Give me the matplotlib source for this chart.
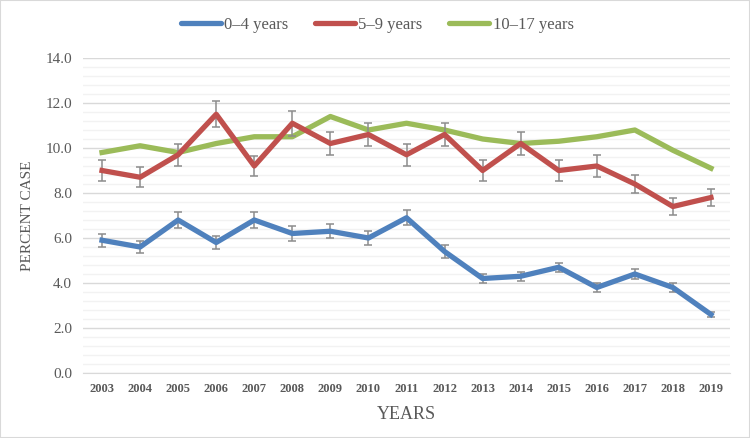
import matplotlib
matplotlib.use("Agg")
import matplotlib.pyplot as plt
from matplotlib.ticker import MultipleLocator
from matplotlib.patches import Rectangle
from matplotlib.lines import Line2D

years = [str(y) for y in range(2003, 2020)]
age_0_4 = [5.9, 5.6, 6.8, 5.8, 6.8, 6.2, 6.3, 6.0, 6.9, 5.4, 4.2, 4.3, 4.7, 3.8, 4.4, 3.8, 2.6]
age_0_4_err = [0.29, 0.28, 0.35, 0.30, 0.35, 0.32, 0.31, 0.29, 0.34, 0.27, 0.20, 0.19, 0.21, 0.18, 0.22, 0.18, 0.13]
age_5_9 = [9.0, 8.7, 9.7, 11.5, 9.2, 11.1, 10.2, 10.6, 9.7, 10.6, 9.0, 10.2, 9.0, 9.2, 8.4, 7.4, 7.8]
age_5_9_err = [0.45, 0.44, 0.48, 0.58, 0.46, 0.55, 0.51, 0.53, 0.48, 0.53, 0.45, 0.50, 0.45, 0.47, 0.41, 0.36, 0.39]
age_10_17 = [9.8, 10.1, 9.8, 10.2, 10.5, 10.5, 11.4, 10.8, 11.1, 10.8, 10.4, 10.2, 10.3, 10.5, 10.8, 9.9, 9.1]
series_labels = ["0\u20134 years", "5\u20139 years", "10\u201317 years"]

plt.rcParams['font.family'] = ['Liberation Serif', 'DejaVu Serif']

fig = plt.figure(figsize=(7.5, 4.38), dpi=100)
ax = fig.add_axes([83/750, 65/438, (730-83)/750, (373-58)/438])

x = list(range(len(years)))
c_blue, c_red, c_green = "#4F81BD", "#C0504D", "#9BBB59"
lw = 3.8

ax.errorbar(x, age_0_4, yerr=age_0_4_err, color=c_blue, lw=lw, ecolor="#8C8C8C",
            elinewidth=1.1, capsize=3, capthick=1.1, zorder=3)
ax.errorbar(x, age_5_9, yerr=age_5_9_err, color=c_red, lw=lw, ecolor="#8C8C8C",
            elinewidth=1.1, capsize=3, capthick=1.1, zorder=3)
ax.plot(x, age_10_17, color=c_green, lw=lw, zorder=2.5)

ax.set_xlim(-0.5, len(years) - 0.5)
ax.set_ylim(0, 14)
ax.yaxis.set_major_locator(MultipleLocator(2))
ax.yaxis.set_minor_locator(MultipleLocator(0.4))
ax.set_yticks([0, 2, 4, 6, 8, 10, 12, 14])
ax.set_yticklabels([f"{v:.1f}" for v in [0, 2, 4, 6, 8, 10, 12, 14]])
ax.set_xticks(x)
ax.set_xticklabels(years, fontsize=9, fontweight='bold', color="#595959")
ax.tick_params(axis='y', labelsize=11, colors="#595959", length=0, pad=8)
ax.tick_params(axis='y', which='minor', length=0)
ax.tick_params(axis='x', length=0, pad=7)
ax.grid(axis='y', which='major', color="#D9D9D9", lw=1.0, zorder=0)
ax.grid(axis='y', which='minor', color="#F2F2F2", lw=1.0, zorder=0)
ax.set_axisbelow(True)
for s in ['top', 'right', 'left']:
    ax.spines[s].set_visible(False)
ax.spines['bottom'].set_color("#D9D9D9")

ax.set_ylabel("PERCENT CASE", fontsize=11, color="#595959", labelpad=8)
ax.set_xlabel("YEARS", fontsize=13, color="#595959", labelpad=8)

handles = [Line2D([], [], color=c, lw=lw, solid_capstyle='round') for c in (c_blue, c_red, c_green)]
fig.legend(handles, series_labels, loc='center', bbox_to_anchor=(0.503, 1 - 25/438), ncol=3,
           frameon=False, fontsize=12, labelcolor="#595959", handlelength=2.4,
           handletextpad=0.2, columnspacing=1.6)

fig.patches.append(Rectangle((0, 0), 1, 1, transform=fig.transFigure, fill=False,
                             edgecolor="#D9D9D9", lw=1.5))

fig.savefig("out.png", dpi=100)
